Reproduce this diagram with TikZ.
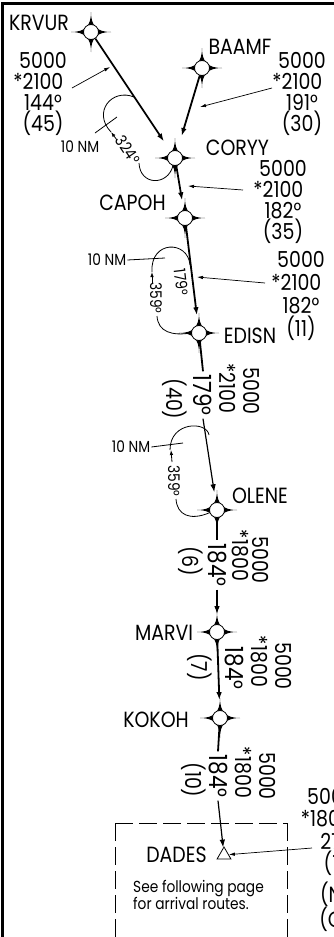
\documentclass[tikz,border=0pt]{standalone}
\usepackage{fontspec}
\setmainfont{Poppins}[FakeStretch=0.86]
\usetikzlibrary{arrows.meta,shapes.geometric}

\tikzset{
    fixpt/.style={shape=circle,draw=black,fill=white,line width=0.8pt,inner sep=0pt,minimum size=15pt},
    track/.style={line width=1.8pt,-{Latex[length=8pt,width=5.5pt]}},
    thintrack/.style={line width=1.2pt,-{Latex[length=8pt,width=5.5pt]}},
    leader/.style={line width=0.7pt,-{Latex[length=6pt,width=3.5pt]}},
    hold/.style={line width=0.8pt},
    holdarrow/.style={line width=0.8pt,-{Latex[length=5pt,width=3.5pt]}},
    notebox/.style={dash pattern=on 18pt off 6pt,line width=0.8pt},
    fixname/.style={font=\fontsize{22}{24}\selectfont,inner sep=0pt},
    altstack/.style={font=\fontsize{22}{20.7}\selectfont,align=center,inner sep=0pt},
    crs/.style={font=\fontsize{25}{27}\selectfont,rotate=-90,inner sep=3pt},
    holdtext/.style={font=\fontsize{16}{18}\selectfont,inner sep=1pt},
}

\begin{document}
\begin{tikzpicture}[x=1pt,y=-1pt]
    \useasboundingbox (0,0) rectangle (333,937);

    % Frame
    \draw[line width=2.5pt] (2.5,945) -- (2.5,3.5) -- (345,3.5);

    % Draw fixes
    \foreach \n/\x/\y in {krvur/91/32, baamf/202/68, coryy/175/158, capoh/185/218,
                          edisn/199/333, olene/217/510, marvi/217/632, kokoh/220/718} {
        \fill[shift={(\x,\y)}] (0,-20) .. controls (0,-6) and (6,0) .. (20,0)
            .. controls (6,0) and (0,6) .. (0,20) .. controls (0,6) and (-6,0) .. (-20,0)
            .. controls (-6,0) and (0,-6) .. cycle;
        \node[fixpt] (\n) at (\x,\y) {};
    }
    \node[shape=regular polygon,regular polygon sides=3,draw=black,line width=0.8pt,
          inner sep=0pt,minimum size=16pt] (dades) at (224,855) {};

    % Fix names
    \node[fixname] (krvurname) at (39,22.5) {KRVUR};
    \node[fixname] (baamfname) at (240,46.5) {BAAMF};
    \node[fixname] (coryyname) at (237.5,147.5) {CORYY};
    \node[fixname] (capohname) at (132.5,202.5) {CAPOH};
    \node[fixname] (edisnname) at (250,335.5) {EDISN};
    \node[fixname] (olenename) at (260,495.5) {OLENE};
    \node[fixname] (marviname) at (164,632.5) {MARVI};
    \node[fixname] (kokohname) at (156,719.5) {KOKOH};
    \node[fixname] (dadesname) at (176.5,855) {DADES};

    % Courses on the tracks
    \node[crs] (crs1) at (203,395) {179°};
    \node[crs] (crs2) at (217,565) {184°};
    \node[crs] (crs3) at (234,668) {184°};
    \node[crs] (crs4) at (218,776) {184°};

    % Draw tracks
    \draw[track,shorten >=12pt] (krvur) -- (coryy);
    \draw[track,shorten >=15pt] (baamf) -- (coryy);
    \draw[track,shorten >=10pt] (coryy) -- (capoh);
    \draw[track,shorten >=10pt] (capoh) -- (edisn);
    \draw[track,-] (edisn) -- (crs1.west);
    \draw[thintrack,shorten >=10pt] (crs1.east) -- (olene);
    \draw[track,-] (olene) -- (crs2.west);
    \draw[thintrack,shorten >=10pt] (crs2.east) -- (marvi);
    \draw[track,shorten >=10pt] (marvi) -- (kokoh);
    \draw[track,-] (kokoh) -- (crs4.west);
    \draw[thintrack] (crs4.east) -- (dades);

    % Altitudes and distances
    \node[altstack] (leg1) at (43,94) {5000\\\llap{*}2100\\144°\\(45)};
    \node[altstack] (leg2) at (302,94) {5000\\\llap{*}2100\\191°\\(30)};
    \node[altstack,font=\fontsize{22}{21}\selectfont] (leg3) at (283,202) {5000\\\llap{*}2100\\182°\\(35)};
    \node[altstack,font=\fontsize{22}{22.7}\selectfont] (leg4) at (301,296) {5000\\\llap{*}2100\\182°\\(11)};
    \node[altstack,rotate=-90] (leg5a) at (252,391) {5000};
    \node[altstack,rotate=-90] (leg5b) at (228,393) {\llap{*}2100};
    \node[altstack,rotate=-90] (leg5c) at (175,399) {(40)};
    \node[altstack,rotate=-90] (leg6a) at (261,560) {5000};
    \node[altstack,rotate=-90] (leg6b) at (240,560) {\llap{*}1800};
    \node[altstack,rotate=-90] (leg6c) at (191,561) {(6)};
    \node[altstack,rotate=-90] (leg7a) at (284,666) {5000};
    \node[altstack,rotate=-90] (leg7b) at (259,666) {\llap{*}1800};
    \node[altstack,rotate=-90] (leg7c) at (200,667) {(7)};
    \node[altstack,rotate=-90] (leg8a) at (268,776) {5000};
    \node[altstack,rotate=-90] (leg8b) at (243,777) {\llap{*}1800};
    \node[altstack,rotate=-90] (leg8c) at (194,780) {(10)};
    \node[altstack,font=\fontsize{22}{22.5}\selectfont] (leg9) at (331,860) {5000\\\llap{*}1800\\27\\(1\\[5pt](N\\(C};

    % Leaders to the tracks
    \coordinate (tail1) at (72,88);   \coordinate (tip1) at (110,67);
    \coordinate (tail2) at (272,88);  \coordinate (tip2) at (200,107);
    \coordinate (tail3) at (243,190); \coordinate (tip3) at (188,186);
    \coordinate (tail4) at (265,283); \coordinate (tip4) at (197,277);
    \coordinate (tail5) at (312,848);
    \draw[leader] (tail1) -- (tip1);
    \draw[leader] (tail2) -- (tip2);
    \draw[leader] (tail3) -- (tip3);
    \draw[leader] (tail4) -- (tip4);
    \draw[leader] (tail5) -- (dades);

    % Hold at CORYY
    \draw[hold] (coryy.255) .. controls (168,186) and (140,186) .. (139,163);
    \draw[holdarrow] (117,140) -- (111,132);
    \draw[hold] (111,132) .. controls (92,112) and (112,88) .. (134,97);
    \node[holdtext,rotate=-56] (hold1) at (128,150) {324°};
    \node[holdtext] (nm1) at (80,147) {10 NM};
    \coordinate (tick1) at (117,117);
    \draw[hold] (95,133) -- (tick1);

    % Hold at EDISN
    \draw[hold] (190,265) .. controls (188,240) and (150,240) .. (152,272);
    \draw[holdarrow] (152,283) -- (152,272);
    \node[holdtext,rotate=-90] (hold2) at (156,298) {359°};
    \draw[hold] (157,316) .. controls (158,332) and (172,336) .. (edisn.west);
    \node[holdtext,rotate=-83] (inb2) at (181,282) {179°};
    \node[holdtext] (nm2) at (107,260) {10 NM};
    \coordinate (tick2) at (165,258);
    \draw[hold] (nm2.east) -- (tick2);

    % Hold at OLENE
    \draw[hold] (209,435) .. controls (207,421) and (170,421) .. (170,450);
    \draw[holdarrow] (172,462) -- (171,450);
    \node[holdtext,rotate=-90] (hold3) at (174,481) {359°};
    \draw[hold] (176,499) .. controls (177,515) and (190,521) .. (olene.200);
    \node[holdtext] (nm3) at (131,447) {10 NM};
    \coordinate (tick3) at (183,443);
    \draw[hold] (nm3.east) -- (tick3);

    % Note box round DADES
    \draw[notebox] (115,823) -- (287,823);
    \draw[notebox] (115,823) -- (115,945);
    \draw[notebox] (287,823) -- (287,945);
    \node[anchor=west,align=left,font=\fontsize{16}{15.5}\selectfont,inner sep=0pt] (note) at (133,895)
        {See following page\\for arrival routes.};
\end{tikzpicture}
\end{document}
